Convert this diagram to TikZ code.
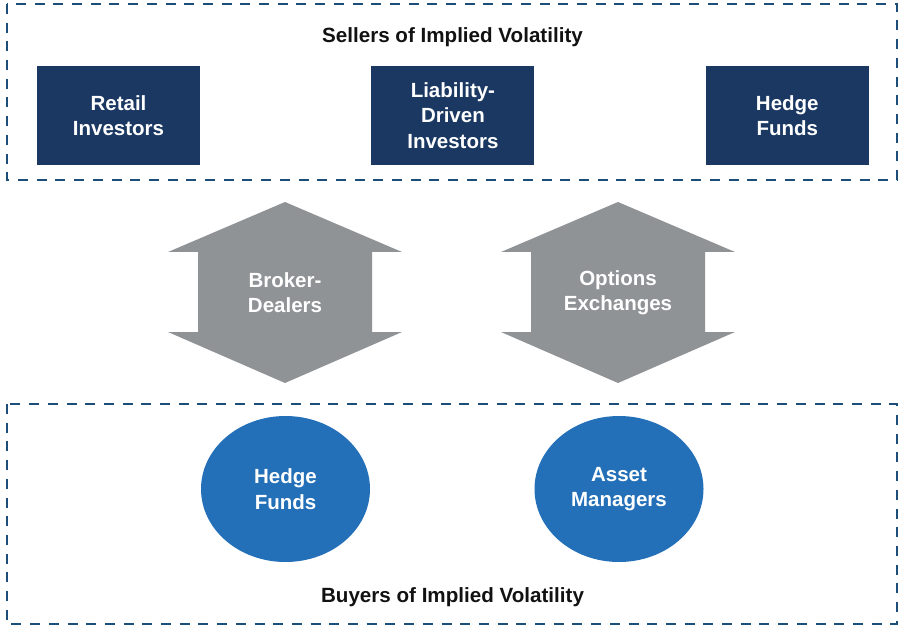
\documentclass[tikz,border=0pt]{standalone}
\usepackage{fontspec}
\setmainfont{Liberation Sans}
\usepackage{xcolor}
\usetikzlibrary{positioning,shapes.geometric}

\definecolor{navy}{HTML}{1A3862}
\definecolor{steel}{HTML}{909396}
\definecolor{midblue}{HTML}{2470B8}
\definecolor{framecol}{HTML}{1B4E78}

\begin{document}
\begin{tikzpicture}[x=1pt,y=-1pt,node distance=171pt]
\tikzset{
  group/.style={draw=framecol,line width=2.9pt,dash pattern=on 10pt off 8.7pt},
  label/.style={font=\bfseries\fontsize{20.6}{25}\selectfont,text=black!93},
  seller/.style={fill=navy,text=white,font=\bfseries\fontsize{20.5}{25.5}\selectfont,align=center,
    minimum width=163pt,minimum height=99pt,inner sep=0pt},
  buyer/.style={ellipse,fill=midblue,text=white,font=\bfseries\fontsize{20.5}{25.5}\selectfont,align=center,
    minimum width=169pt,minimum height=146pt,inner sep=0pt},
  relay/.style={fill=steel},
  relaytext/.style={text=white,font=\bfseries\fontsize{20.5}{25.5}\selectfont,align=center,inner sep=0pt}
}
\useasboundingbox (0,0) rectangle (899,628);

% sellers
\draw[group] (7,4) rectangle (897,180);
\node[label] (sell) at (452.5,37) {Sellers of Implied Volatility};
\node[seller] (retail) at (118.5,115.5) {Retail\\Investors};
\node[seller,right=of retail] (ldi) {Liability-\\Driven\\Investors};
\node[seller,right=of ldi] (hfsell) {Hedge\\Funds};

% intermediaries
\coordinate (bd) at (285,292.5);
\coordinate (ox) at (618,292.5);
\fill[relay] (bd) ++(0,-90.5) -- ++(117,50) -- ++(-30,0) -- ++(0,80) -- ++(30,0)
  -- ++(-117,51) -- ++(-117,-51) -- ++(30,0) -- ++(0,-80) -- ++(-30,0) -- cycle;
\fill[relay] (ox) ++(0,-90.5) -- ++(117,50) -- ++(-30,0) -- ++(0,80) -- ++(30,0)
  -- ++(-117,51) -- ++(-117,-51) -- ++(30,0) -- ++(0,-80) -- ++(-30,0) -- cycle;
\node[relaytext] (broker) at (bd) {Broker-\\Dealers};
\node[relaytext] (exch) at (ox) {Options\\Exchanges};

% buyers
\draw[group] (7,404) rectangle (897,624);
\node[buyer] (hfbuy) at (285.5,489) {Hedge\\Funds};
\node[buyer] (asset) at (619,489) {Asset\\Managers};
\node[label] (buy) at (452.5,597) {Buyers of Implied Volatility};
\end{tikzpicture}
\end{document}
